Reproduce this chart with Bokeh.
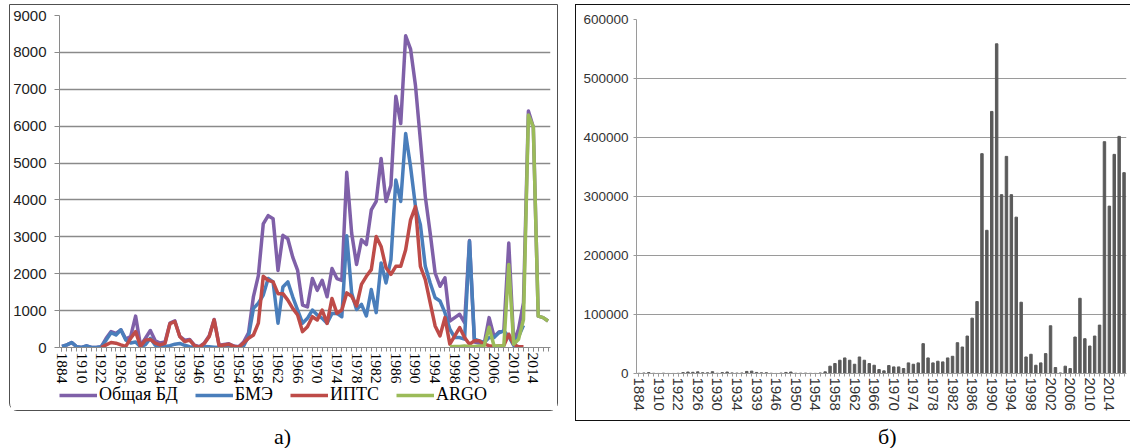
from bokeh.plotting import figure
from bokeh.models import (FixedTicker, Legend, Div, Spacer, ColumnDataSource, Range1d,
                          NumeralTickFormatter)
from bokeh.layouts import row, column
from bokeh.embed import file_html
from bokeh.resources import INLINE

_ = float("nan")

years = ["1884", "1890", "1900", "1905", "1910", "1912", "1914", "1920", "1922", "1923",
         "1924", "1925", "1926", "1927", "1928", "1929", "1930", "1931", "1932", "1933",
         "1934", "1935", "1936", "1937", "1939", "1940", "1941", "1945", "1946", "1947",
         "1948", "1949", "1950", "1951", "1952", "1953", "1954", "1955", "1956", "1957",
         "1958", "1959", "1960", "1961", "1962", "1963", "1964", "1965", "1966", "1967",
         "1968", "1969", "1970", "1971", "1972", "1973", "1974", "1975", "1976", "1977",
         "1978", "1979", "1980", "1981", "1982", "1983", "1984", "1985", "1986", "1987",
         "1988", "1989", "1990", "1991", "1992", "1993", "1994", "1995", "1996", "1997",
         "1998", "1999", "2000", "2001", "2002", "2003", "2004", "2005", "2006", "2007",
         "2008", "2009", "2010", "2011", "2012", "2013", "2014", "2015", "2016", "2017"]

# (а) number of stations per year
total = [30, 70, 135, 20, 0, 45, 0, 0, 20, 250,
         430, 380, 480, 230, 300, 850, 50, 250, 460, 180,
         120, 150, 660, 720, 300, 200, 220, 60, 20, 120,
         320, 760, 60, 80, 100, 40, 20, 150, 400, 1380,
         1950, 3350, 3575, 3490, 2090, 3040, 2950, 2450, 2090, 1150,
         1100, 1870, 1550, 1820, 1375, 2140, 1870, 1820, 4750, 3100,
         2250, 2920, 2790, 3730, 3960, 5125, 3960, 4400, 6810, 6070,
         8450, 8090, 7100, 5620, 4090, 3100, 2020, 1660, 1890, 720,
         810, 900, 675, 2900, 150, 120, 100, 810, 300, 420,
         460, 2830, 150, 500, 1210, 6410, 5980, 850, 810, 720]

bme = [30, 70, 135, 20, 0, 45, 0, 0, 20, 200,
       400, 340, 480, 200, 120, 150, 20, 80, 250, 60,
       40, 30, 50, 90, 110, 60, 20, 10, 10, 30,
       20, 10, 0, 0, 0, 0, 10, 40, 300, 1060,
       1200, 1420, 1870, 1780, 660, 1640, 1780, 1375, 1015, 660,
       790, 1015, 880, 790, 660, 925, 925, 835, 3030, 1480,
       1030, 1170, 855, 1570, 945, 2290, 1750, 2380, 4540, 3960,
       5800, 4900, 3820, 3330, 2200, 1750, 1350, 1260, 945, 495,
       270, 270, 225, 2880, 225, 180, 135, 270, 270, 400,
       450, 300, 60, 300, 600, _, _, _, _, _]

ipts = [_, _, _, _, _, _, _, _, 0, 70,
        135, 117, 70, 30, 250, 430, 30, 200, 220, 120,
        70, 110, 650, 700, 300, 160, 200, 50, 10, 110,
        300, 750, 50, 70, 90, 30, 10, 120, 250, 340,
        660, 1930, 1820, 1780, 1460, 1460, 1285, 1060, 880, 430,
        565, 835, 745, 1015, 655, 1330, 925, 1015, 1480, 1390,
        1125, 1710, 1930, 2110, 3010, 2740, 2160, 1980, 2200, 2200,
        2650, 3460, 3820, 2200, 1840, 1210, 585, 315, 810, 90,
        315, 540, 270, 90, 180, 180, 90, 50, 30, 40,
        50, 360, 90, 20, 20, _, _, _, _, _]

argo = [_, _, _, _, _, _, _, _, _, _,
        _, _, _, _, _, _, _, _, _, _,
        _, _, _, _, _, _, _, _, _, _,
        _, _, _, _, _, _, _, _, _, _,
        _, _, _, _, _, _, _, _, _, _,
        _, _, _, _, _, _, _, _, _, _,
        _, _, _, _, _, _, _, _, _, _,
        _, _, _, _, _, _, _, _, _, 20,
        30, 30, 40, 30, 30, 40, 50, 550, 40, 40,
        50, 2250, 90, 225, 760, 6300, 5980, 850, 810, 720]

# (б) number of observations per year
obs = [300, 800, 1500, 300, 100, 500, 100, 100, 300, 1500,
       2500, 2000, 2800, 1300, 1200, 3000, 400, 1500, 2500, 1000,
       700, 900, 3500, 4000, 1800, 1200, 1300, 400, 100, 700,
       1800, 2500, 400, 500, 600, 300, 200, 900, 2800, 12400,
       16900, 22500, 26400, 22500, 15700, 28000, 22500, 16900, 14000, 6700,
       4500, 13500, 11200, 11200, 8400, 18000, 15700, 18000, 50600, 26400,
       18000, 20800, 19700, 26400, 29200, 52200, 44900, 63500, 93800, 121900,
       372600, 242700, 444200, 558800, 303100, 368000, 303100, 265000, 120800, 28000,
       32600, 14000, 18000, 33700, 80900, 10100, 1000, 12400, 8400, 61800,
       127500, 59000, 46600, 63500, 82000, 392900, 283700, 371400, 401900, 340400]

series_names = ["Общая БД", "БМЭ", "ИПТС", "ARGO"]
series_cols = ["total", "bme", "ipts", "argo"]
colors = ["#7F60A8", "#4A7EBB", "#BE4B48", "#9BBB59"]

pos = list(range(len(years)))
label_map = {i: years[i] for i in range(0, len(years), 4)}
src = ColumnDataSource(dict(x=pos, total=total, bme=bme, ipts=ipts, argo=argo, obs=obs))

# ---------------- left panel (а) ----------------
pL = figure(width=547, height=381, title=None, x_range=Range1d(-0.5, 99.5), y_range=Range1d(0, 9000),
            output_backend="svg", toolbar_location=None,
            min_border_left=47, min_border_right=7, min_border_top=10, min_border_bottom=38)
pL.outline_line_color = None
pL.xgrid.visible = False
pL.ygrid.grid_line_color = "#8a8a8a"
pL.ygrid.grid_line_width = 1.3
pL.yaxis.ticker = FixedTicker(ticks=[0, 1000, 2000, 3000, 4000, 5000, 6000, 7000, 8000, 9000])
pL.yaxis.formatter = NumeralTickFormatter(format="0")
pL.yaxis.axis_line_color = "#8a8a8a"
pL.yaxis.major_tick_line_color = "#8a8a8a"
pL.yaxis.major_tick_out = 5
pL.yaxis.major_tick_in = 0
pL.yaxis.minor_tick_line_color = None
pL.yaxis.major_label_standoff = 8
pL.yaxis.major_label_text_font = "Liberation Sans"
pL.yaxis.major_label_text_font_size = "15px"
pL.yaxis.major_label_text_color = "#222222"

pL.xaxis.ticker = FixedTicker(ticks=list(range(0, 100, 4)), minor_ticks=pos)
pL.xaxis.major_label_overrides = label_map
pL.xaxis.major_label_orientation = "vertical"
pL.xaxis.axis_line_color = "#8a8a8a"
pL.xaxis.major_tick_line_color = "#8a8a8a"
pL.xaxis.minor_tick_line_color = "#8a8a8a"
pL.xaxis.major_tick_out = 4
pL.xaxis.major_tick_in = 0
pL.xaxis.minor_tick_out = 4
pL.xaxis.minor_tick_in = 0
pL.xaxis.major_label_standoff = 1
pL.xaxis.major_label_text_font = "Liberation Serif"
pL.xaxis.major_label_text_font_size = "15.5px"
pL.xaxis.major_label_text_color = "#000000"

for col, c in zip(series_cols, colors):
    pL.line("x", col, source=src, line_width=3.5, color=c, line_join="round")

# legend strip of panel (а): proxies with the same line styles (kept outside the visible range)
pLeg = figure(width=547, height=24, title=None, x_range=Range1d(0, 1), y_range=Range1d(0, 1),
              output_backend="svg", toolbar_location=None,
              x_axis_location=None, y_axis_location=None,
              min_border_left=0, min_border_right=0, min_border_top=0, min_border_bottom=0)
pLeg.outline_line_color = None
pLeg.grid.visible = False
leg_renderers = []
for c in colors:
    leg_renderers.append(pLeg.line(x=[-5, -4], y=[-5, -4], line_width=3.5, color=c))
legend = Legend(items=[(n, [r]) for n, r in zip(series_names, leg_renderers)],
                orientation="horizontal", location=(0, 5),
                glyph_width=38, glyph_height=18, label_height=18, label_standoff=2, spacing=17,
                padding=0, margin=0, border_line_color=None, background_fill_alpha=0,
                label_text_font="Liberation Serif", label_text_font_size="18px",
                label_text_color="#000000")
pLeg.add_layout(legend)

boxL = column(pL, pLeg, styles={"outline": "1.5px solid #505050", "border-radius": "0 0 7px 7px"})

# ---------------- right panel (б) ----------------
pR = figure(width=560, height=415, title=None, x_range=Range1d(-0.5, 99.5), y_range=Range1d(0, 600000),
            output_backend="svg", toolbar_location=None,
            min_border_left=60, min_border_right=10, min_border_top=14, min_border_bottom=47,
            styles={"outline": "1.5px solid #111111"})
pR.outline_line_color = None
pR.xgrid.visible = False
pR.ygrid.grid_line_color = "#9a9a9a"
pR.ygrid.grid_line_width = 1.2
pR.yaxis.ticker = FixedTicker(ticks=[0, 100000, 200000, 300000, 400000, 500000, 600000])
pR.yaxis.formatter = NumeralTickFormatter(format="0")
pR.yaxis.axis_line_color = "#9a9a9a"
pR.yaxis.major_tick_line_color = "#9a9a9a"
pR.yaxis.major_tick_out = 3
pR.yaxis.major_tick_in = 0
pR.yaxis.minor_tick_line_color = None
pR.yaxis.major_label_standoff = 5
pR.yaxis.major_label_text_font = "Liberation Sans"
pR.yaxis.major_label_text_font_size = "13.5px"
pR.yaxis.major_label_text_color = "#333333"

pR.xaxis.ticker = FixedTicker(ticks=list(range(0, 100, 4)), minor_ticks=pos)
pR.xaxis.major_label_overrides = label_map
pR.xaxis.major_label_orientation = "vertical"
pR.xaxis.axis_line_color = "#9a9a9a"
pR.xaxis.major_tick_line_color = "#9a9a9a"
pR.xaxis.minor_tick_line_color = "#9a9a9a"
pR.xaxis.major_tick_out = 3
pR.xaxis.major_tick_in = 0
pR.xaxis.minor_tick_out = 3
pR.xaxis.minor_tick_in = 0
pR.xaxis.major_label_standoff = 1
pR.xaxis.major_label_text_font = "Liberation Sans"
pR.xaxis.major_label_text_font_size = "15px"
pR.xaxis.major_label_text_color = "#333333"

pR.vbar(x="x", top="obs", source=src, width=0.5, color="#5a5a5a")

capL = Div(text="а)", width=547, height=24,
           styles={"font-family": "Liberation Serif", "font-size": "22px", "line-height": "24px",
                   "text-indent": "259px", "color": "#000000"})
capR = Div(text="б)", width=560, height=24,
           styles={"font-family": "Liberation Serif", "font-size": "22px", "line-height": "24px",
                   "text-indent": "297px", "color": "#000000"})

layout = row(Spacer(width=10),
             column(Spacer(height=5), boxL, Spacer(height=10), capL),
             Spacer(width=9),
             column(Spacer(height=5), pR, capR))

open("out.html", "w").write(file_html(layout, INLINE))
